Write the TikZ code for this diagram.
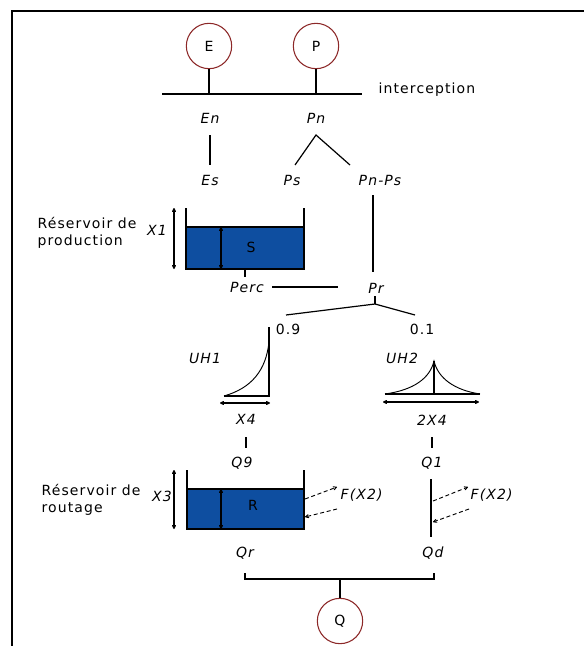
\documentclass[tikz,border=0pt]{standalone}
\usepackage{fontspec}
\setmainfont{DejaVu Sans}[LetterSpace=8]
\usetikzlibrary{arrows.meta}
\definecolor{gaugered}{RGB}{140,40,40}
\definecolor{waterblue}{RGB}{14,78,160}
\tikzset{
  txt/.style={font=\fontsize{10.5}{12.5}\selectfont, inner sep=1pt},
  lbl/.style={font=\fontsize{10.5}{12.5}\selectfont\itshape, inner sep=1pt},
  gauge/.style={circle, draw=gaugered, line width=0.8pt, minimum size=34pt,
    inner sep=0pt, font=\fontsize{10.5}{12.5}\selectfont},
  link/.style={line width=0.9pt},
  frame/.style={line width=2pt},
  dim/.style={line width=0.8pt, {To[length=3pt,width=3pt]}-{To[length=3pt,width=3pt]}},
  flux/.style={line width=0.7pt, densely dashed, -{To[length=3pt,width=3pt]}},
}
\begin{document}
\begin{tikzpicture}[x=0.75pt,y=-0.75pt]
\useasboundingbox (0,0) rectangle (584,646);
% outer frame (top and left edges)
\draw[frame] (12,646) -- (12,11) -- (584,11);

% inputs and interception
\node[gauge] (E) at (209,46) {E};
\node[gauge] (P) at (316,46) {P};
\coordinate (iL) at (162,94);
\coordinate (iR) at (362,94);
\draw[link] (iL) -- (iR);
\draw[link] (E.south) -- (E.south |- iL);
\draw[link] (P.south) -- (P.south |- iL);
\node[txt, anchor=west] (interc) at (377,90) {interception};

\node[lbl] (En) at (210,118) {En};
\node[lbl] (Pn) at (316,118) {Pn};
\node[lbl] (Es) at (210,180) {Es};
\node[lbl] (Ps) at (292,180) {Ps};
\node[lbl] (PnPs) at (380,180) {Pn-Ps};
\draw[link] (210,135) -- (210,165);
\coordinate (pnfork) at (316,135);
\draw[link] (295,165) -- (pnfork) -- (350,165);

% production store
\fill[waterblue] (186,227) rectangle (304,269);
\draw[link] (186,227) -- (304,227);
\draw[link] (186,208) -- (186,269) -- (304,269) -- (304,208);
\draw[dim] (174,208) -- (174,269);
\draw[dim] (221,227) -- (221,269);
\node[txt] (S) at (251,247) {S};
\node[lbl] (X1) at (157,230) {X1};
\node[txt, anchor=west, align=left] (resprod) at (36,233)
  {Réservoir de\\production};

\node[lbl] (Perc) at (247,287) {Perc};
\node[lbl] (Pr) at (376,288) {Pr};
\draw[link] (245,269) -- (245,277);
\draw[link] (272,287) -- (338,287);
\draw[link] (373,195) -- (373,272);

% split 0.9 / 0.1
\coordinate (split) at (375,304);
\draw[link] (375,296) -- (split);
\draw[link] (286,315) -- (split) -- (415,315);
\node[txt] (w9) at (288,329) {0.9};
\node[txt] (w1) at (422,329) {0.1};

% unit hydrograph UH1
\node[lbl] (UH1) at (205,358) {UH1};
\draw[link] (269,327) -- (269,396) -- (224,396);
\draw[line width=0.7pt] (224,396) .. controls (252,388) and (266,370) .. (269,342);
\draw[dim] (220,403) -- (270,403);
\node[lbl] (X4) at (246,419) {X4};

% unit hydrograph UH2
\node[lbl] (UH2) at (402,358) {UH2};
\draw[link] (385,394) -- (480,394);
\draw[link] (434,361) -- (434,394);
\draw[line width=0.7pt] (385,394) .. controls (414,390) and (430,378) .. (434,361)
  .. controls (438,378) and (454,390) .. (480,394);
\draw[dim] (383,402) -- (479,402);
\node[lbl] (X42) at (432,420) {2X4};

\draw[link] (246,437) -- (246,448);
\draw[link] (432,437) -- (432,448);
\node[lbl] (Q9) at (242,463) {Q9};
\node[lbl] (Q1) at (432,463) {Q1};

% routing store
\fill[waterblue] (187,489) rectangle (304,529);
\draw[link] (187,489) -- (304,489);
\draw[link] (187,470) -- (187,529) -- (304,529) -- (304,470);
\draw[dim] (174,470) -- (174,529);
\draw[dim] (221,489) -- (221,529);
\node[txt] (R) at (253,505) {R};
\node[lbl] (X3) at (162,496) {X3};
\node[txt, anchor=west, align=left] (resrout) at (40,500)
  {Réservoir de\\routage};

% groundwater exchange
\draw[flux] (305,499) -- (337,487);
\draw[flux] (337,509) -- (305,517);
\node[lbl, anchor=west] (F1) at (339,495) {F(X2)};
\draw[link] (431,479) -- (431,537);
\draw[flux] (433,501) -- (468,487);
\draw[flux] (469,509) -- (433,522);
\node[lbl, anchor=west] (F2) at (469,495) {F(X2)};

% outflows
\node[lbl] (Qr) at (245,553) {Qr};
\node[lbl] (Qd) at (433,553) {Qd};
\node[gauge] (Q) at (340,621) {Q};
\coordinate (junc) at (340,579);
\draw[link] (245,573) -- (245,579) -- (434,579) -- (434,573);
\draw[link] (junc) -- (Q.north);
\end{tikzpicture}
\end{document}
